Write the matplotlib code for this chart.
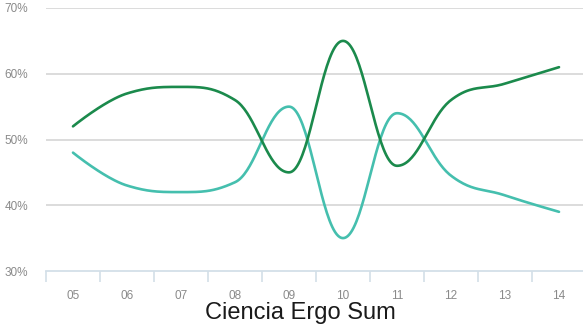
import numpy as np
import matplotlib
matplotlib.use("Agg")
import matplotlib.pyplot as plt

years = ["05", "06", "07", "08", "09", "10", "11", "12", "13", "14"]
dark_series = [52, 57, 58, 56, 45, 65, 46, 56, 58.5, 61]
teal_series = [48, 43, 42, 43.5, 55, 35, 54, 44.5, 41.5, 39]
y_ticks = [30, 40, 50, 60, 70]
title = "Ciencia Ergo Sum"


def spline_path(x, y, n=40, smoothing=1.5):
    """Highcharts-style spline: cubic Bezier segments through every point."""
    x = np.asarray(x, float)
    y = np.asarray(y, float)
    N = len(x)
    denom = smoothing + 1
    lcx, lcy = x.copy(), y.copy()
    rcx, rcy = x.copy(), y.copy()
    for i in range(1, N - 1):
        lx, ly, px, py, nx, ny = x[i - 1], y[i - 1], x[i], y[i], x[i + 1], y[i + 1]
        lcx_i = (smoothing * px + lx) / denom
        lcy_i = (smoothing * py + ly) / denom
        rcx_i = (smoothing * px + nx) / denom
        rcy_i = (smoothing * py + ny) / denom
        corr = (rcy_i - lcy_i) * (rcx_i - px) / (rcx_i - lcx_i) + py - rcy_i
        lcy_i += corr
        rcy_i += corr
        if lcy_i > ly and lcy_i > py:
            lcy_i = max(ly, py)
            rcy_i = 2 * py - lcy_i
        elif lcy_i < ly and lcy_i < py:
            lcy_i = min(ly, py)
            rcy_i = 2 * py - lcy_i
        if rcy_i > ny and rcy_i > py:
            rcy_i = max(ny, py)
            lcy_i = 2 * py - rcy_i
        elif rcy_i < ny and rcy_i < py:
            rcy_i = min(ny, py)
            lcy_i = 2 * py - rcy_i
        lcx[i], lcy[i], rcx[i], rcy[i] = lcx_i, lcy_i, rcx_i, rcy_i
    xs, ys = [], []
    t = np.linspace(0, 1, n)
    for i in range(N - 1):
        P0 = (x[i], y[i])
        P1 = (rcx[i], rcy[i])
        P2 = (lcx[i + 1], lcy[i + 1])
        P3 = (x[i + 1], y[i + 1])
        b0 = (1 - t) ** 3
        b1 = 3 * (1 - t) ** 2 * t
        b2 = 3 * (1 - t) * t ** 2
        b3 = t ** 3
        xs.append(b0 * P0[0] + b1 * P1[0] + b2 * P2[0] + b3 * P3[0])
        ys.append(b0 * P0[1] + b1 * P1[1] + b2 * P2[1] + b3 * P3[1])
    return np.concatenate(xs), np.concatenate(ys)


fig = plt.figure(figsize=(5.83, 3.30), dpi=100)
W, H = 583, 330
ax = fig.add_axes([46 / W, (330 - 271) / H, 540 / W, 263 / H])

x = np.arange(len(years))
for vals, col in [(teal_series, "#45bfae"), (dark_series, "#1b8a4c")]:
    cx, cy = spline_path(x, vals)
    ax.plot(cx, cy, color=col, lw=1.9, solid_capstyle="round", zorder=3)

ax.set_xlim(-0.5, len(years) - 0.5)
ax.set_ylim(30, 70)
for yv in y_ticks[1:]:
    ax.axhline(yv, color="#d9d9d9", lw=1.3, zorder=1)

ax.set_yticks(y_ticks)
ax.set_yticklabels([f"{v}%" for v in y_ticks], fontsize=8.5, color="#8a8a8a",
                   family="Liberation Sans")
ax.tick_params(axis="y", length=0, pad=13)

ax.set_xticks(x)
ax.set_xticklabels(years, fontsize=8.5, color="#8a8a8a", family="Liberation Sans")
ax.set_xticks(np.arange(len(years) + 1) - 0.5, minor=True)
ax.tick_params(axis="x", which="major", length=0, pad=14)
ax.tick_params(axis="x", which="minor", length=8, width=1.2, color="#d3dfe8", direction="out")

for s in ["top", "right", "left"]:
    ax.spines[s].set_visible(False)
ax.spines["bottom"].set_color("#d3dfe8")
ax.spines["bottom"].set_linewidth(1.3)

fig.text(300 / W, 1 - 313 / H, title, ha="center", va="center", fontsize=17,
         color="#1a1a1a", family="Liberation Sans")

fig.savefig("out.png", dpi=100)
